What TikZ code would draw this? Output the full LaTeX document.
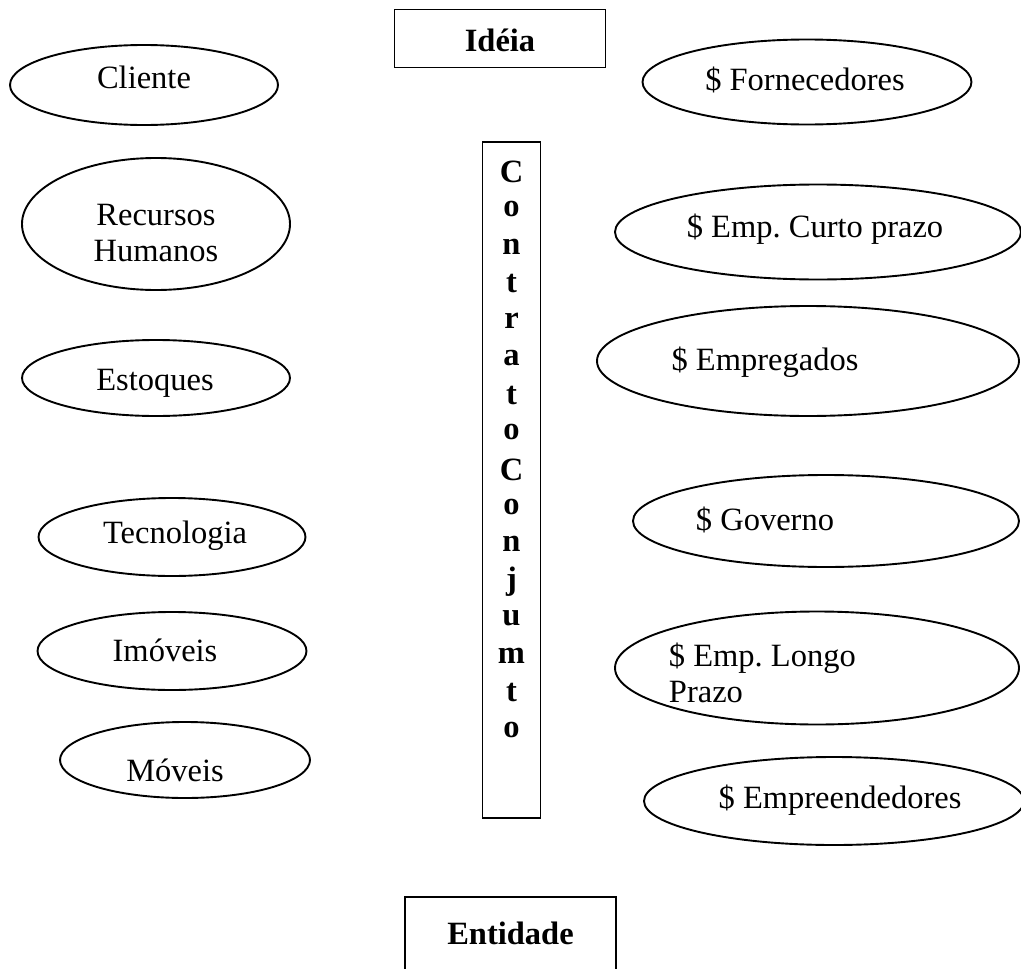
\documentclass[tikz,border=0pt]{standalone}
\usepackage{fontspec}
\setmainfont{Liberation Serif}
\usetikzlibrary{shapes.geometric}
\frenchspacing
\begin{document}
\begin{tikzpicture}[x=1pt,y=-1pt,
  line width=1.9pt,
  ell/.style={draw,ellipse,inner sep=0pt},
  txt/.style={font=\fontsize{32.5}{36}\selectfont,inner sep=0pt,align=center},
  btxt/.style={font=\fontsize{32.5}{36}\selectfont\bfseries,inner sep=0pt},
  box/.style={draw,rectangle,inner sep=0pt}]
\useasboundingbox (0,0) rectangle (1021,969);
\clip (0,0) rectangle (1021,969);
% left ellipses
\node[ell,minimum width=268,minimum height=80] (cli) at (144,85) {};
\node[txt] (tcli) at (144,77) {Cliente};
\node[ell,minimum width=268,minimum height=132] (rh) at (156,224) {};
\node[txt] (trh) at (156,233) {Recursos\\Humanos};
\node[ell,minimum width=268,minimum height=76] (est) at (156,378) {};
\node[txt] (test) at (155,383) {Estoques};
\node[ell,minimum width=267,minimum height=78] (tec) at (172,537) {};
\node[txt] (ttec) at (175,536) {Tecnologia};
\node[ell,minimum width=269,minimum height=78] (imo) at (172,651) {};
\node[txt] (timo) at (165,650) {Imóveis};
\node[ell,minimum width=250,minimum height=76] (mov) at (185,760) {};
\node[txt] (tmov) at (175,770) {Móveis};
% right ellipses
\node[ell,minimum width=329,minimum height=85] (for) at (807,82) {};
\node[txt] (tfor) at (805,80) {\$ Fornecedores};
\node[ell,minimum width=406,minimum height=95] (ecp) at (818,232) {};
\node[txt] (tecp) at (815,229) {\$ Emp. Curto prazo};
\node[ell,minimum width=422,minimum height=110] (emp) at (808,361) {};
\node[txt] (temp) at (765,362) {\$ Empregados};
\node[ell,minimum width=386,minimum height=92] (gov) at (826,521) {};
\node[txt] (tgov) at (765,520) {\$ Governo};
\node[ell,minimum width=404,minimum height=113] (elp) at (817,668) {};
\node[txt,align=left,anchor=west] (telp) at (668,673) {\$ Emp. Longo\\Prazo};
\node[ell,minimum width=380,minimum height=88] (eed) at (834,801) {};
\node[txt] (teed) at (840,800) {\$ Empreendedores};
% boxes
\node[box,minimum width=211,minimum height=58] (ide) at (500,38.5) {};
\node[btxt] (tide) at (500,40) {Idéia};
\node[box,minimum width=58,minimum height=676] (con) at (511.5,480) {};
\foreach \c [count=\i from 0] in {C,o,n,t,r,a,t,o,C,o,n,j,u,m,t,o}
  \node[btxt] (l\i) at (511.5,{172+37.2*\i}) {\c};
\coordinate (ebl) at (405,980);
\coordinate (etl) at (405,897);
\coordinate (etr) at (616,897);
\coordinate (ebr) at (616,980);
\draw (ebl) -- (etl) -- (etr) -- (ebr);
\node[btxt] (tent) at (510.5,933) {Entidade};
\end{tikzpicture}
\end{document}
